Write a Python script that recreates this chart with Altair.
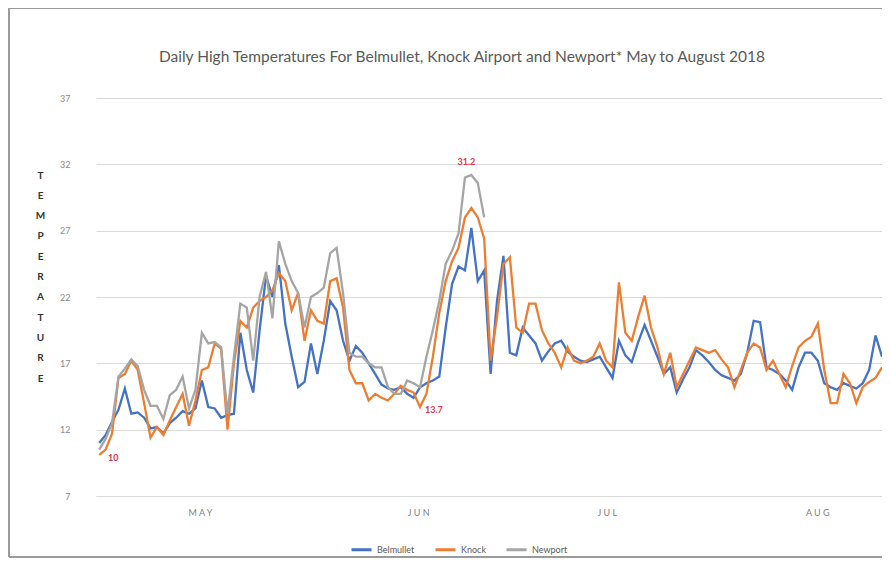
import altair as alt
import pandas as pd

# ---- data (day 0 = 1 May 2018) ----
belmullet = [11.0, 11.6, 12.6, 13.5, 15.1, 13.2, 13.3, 12.9, 12.1, 12.2,
             11.7, 12.5, 12.9, 13.4, 13.2, 13.6, 15.7, 13.7, 13.6, 12.9,
             13.1, 13.2, 19.3, 16.5, 14.8, 19.5, 23.6, 22.0, 24.4, 20.0,
             17.5, 15.2, 15.6, 18.5, 16.2, 18.7, 21.7, 21.0, 18.7, 17.2,
             18.3, 17.8, 17.0, 16.2, 15.4, 15.1, 15.0, 15.2, 14.7, 14.4,
             15.2, 15.5, 15.7, 16.0, 19.7, 23.0, 24.3, 24.0, 27.2, 23.2,
             24.0, 16.2, 21.7, 25.1, 17.8, 17.6, 19.7, 19.1, 18.5, 17.2,
             17.9, 18.5, 18.7, 17.9, 17.5, 17.2, 17.1, 17.3, 17.5, 16.7,
             15.9, 18.7, 17.6, 17.1, 18.6, 19.9, 18.7, 17.5, 16.2, 16.7,
             14.8, 15.8, 16.7, 18.0, 17.6, 17.1, 16.5, 16.1, 15.9, 15.7,
             16.2, 17.8, 20.2, 20.1, 16.7, 16.5, 16.2, 15.7, 15.0, 16.7,
             17.8, 17.8, 17.2, 15.5, 15.2, 15.0, 15.5, 15.3, 15.1, 15.5,
             16.5, 19.1, 17.5]
knock = [10.1, 10.5, 11.7, 15.9, 16.2, 17.2, 16.5, 14.0, 11.4, 12.2,
         11.6, 12.7, 13.7, 14.7, 12.3, 14.2, 16.5, 16.7, 18.5, 18.1,
         12.0, 17.0, 20.2, 19.7, 21.2, 21.7, 22.0, 22.5, 23.8, 23.2,
         21.0, 22.3, 18.7, 21.0, 20.2, 20.0, 23.2, 23.4, 21.2, 16.5,
         15.5, 15.5, 14.2, 14.7, 14.4, 14.2, 14.7, 15.3, 15.0, 14.8,
         13.7, 14.7, 17.5, 20.8, 23.2, 24.7, 25.7, 28.0, 28.7, 28.0,
         26.4, 17.2, 20.5, 24.5, 25.0, 19.7, 19.3, 21.5, 21.5, 19.5,
         18.5, 17.8, 16.7, 18.2, 17.2, 17.0, 17.2, 17.5, 18.5, 17.2,
         16.7, 23.1, 19.3, 18.7, 20.5, 22.1, 19.7, 18.2, 16.2, 17.8,
         15.2, 16.2, 17.2, 18.2, 18.0, 17.8, 18.0, 17.3, 16.7, 15.2,
         16.5, 17.8, 18.5, 18.2, 16.5, 17.2, 16.2, 15.2, 16.8, 18.2,
         18.7, 19.0, 20.0, 16.5, 14.0, 14.0, 16.2, 15.5, 14.0, 15.2,
         15.6, 15.9, 16.7]
newport = [10.5, 11.3, 12.5, 16.0, 16.6, 17.3, 16.8, 15.0, 13.8, 13.8,
           12.8, 14.6, 15.0, 16.0, 13.6, 15.0, 19.3, 18.5, 18.6, 18.2,
           13.2, 17.5, 21.5, 21.2, 17.2, 22.0, 23.9, 20.4, 26.2, 24.5,
           23.2, 22.3, 19.7, 22.0, 22.3, 22.7, 25.3, 25.7, 22.3, 17.8,
           17.5, 17.5, 17.0, 16.7, 16.7, 15.2, 14.7, 14.7, 15.7, 15.5,
           15.2, 17.5, 19.5, 21.7, 24.5, 25.5, 26.8, 31.0, 31.2, 30.6,
           28.0]

series_names = ["Belmullet", "Knock", "Newport"]
series_colors = ["#4472C4", "#ED7D31", "#A5A5A5"]

y_ticks = [7, 12, 17, 22, 27, 32, 37]
month_labels = ["M A Y", "J U N", "J U L", "A U G"]
month_label_days = [15.7, 49.7, 79.1, 111.9]

ann_labels = ["10", "31.2", "13.7"]
ann_days = [0, 58, 50]
ann_values = [10.1, 31.2, 13.7]
ann_dx = [14, -5, 5]
ann_dy = [3, -13, 3]
ann_align = ["center", "center", "left"]

title_text = "Daily High Temperatures For Belmullet, Knock Airport and Newport* May to August 2018"
y_title = list("TEMPERATURE")

# ---- build tables ----
rows = []
for name, vals in zip(series_names, [belmullet, knock, newport]):
    for d, v in enumerate(vals):
        rows.append({"series": name, "day": d, "temp": v})
df = pd.DataFrame(rows)

ann = pd.DataFrame({"label": ann_labels, "day": ann_days, "temp": ann_values})

label_map = " : ".join(
    f"datum.value < {d + 5} ? '{m}'" for d, m in zip(month_label_days[:-1], month_labels[:-1])
) + f" : '{month_labels[-1]}'"

x_scale = alt.Scale(domain=[-0.5, 122.0], nice=False, zero=False)
y_scale = alt.Scale(domain=[7, 37], nice=False, zero=False)

lines = alt.Chart(df).mark_line(strokeWidth=2.3).encode(
    x=alt.X("day:Q", scale=x_scale,
            axis=alt.Axis(values=month_label_days, labelExpr=label_map, title=None,
                          grid=False, ticks=False, domain=True, domainColor="#d9d9d9",
                          labelColor="#7f7f7f", labelFontSize=9, labelPadding=12,
                          labelFont="Lato")),
    y=alt.Y("temp:Q", scale=y_scale,
            axis=alt.Axis(values=y_ticks, title=y_title, titleAngle=0,
                          titleAlign="center", titleBaseline="top",
                          titleX=-56, titleY=72, titleLineHeight=20.3,
                          titleFontSize=10, titleFontWeight="bold", titleColor="#333333",
                          titleFont="Lato",
                          labelColor="#8a8a8a", labelFontSize=9, labelPadding=26,
                          ticks=False, domain=False, gridColor="#d9d9d9",
                          labelFont="Lato")),
    color=alt.Color("series:N", scale=alt.Scale(domain=series_names, range=series_colors),
                    legend=alt.Legend(title=None, orient="none", legendX=254, legendY=440,
                                      direction="horizontal", symbolType="stroke",
                                      symbolStrokeWidth=3, symbolSize=400,
                                      labelFontSize=9, labelColor="#595959",
                                      labelFont="Lato", columnPadding=14)),
    order=alt.Order("day:Q"),
)

lab_layers = []
for i in range(len(ann_labels)):
    lab_layers.append(
        alt.Chart(ann.iloc[[i]]).mark_text(color="#E0344F", fontSize=9, fontWeight="bold",
                                           font="Lato", dx=ann_dx[i], dy=ann_dy[i],
                                           align=ann_align[i]).encode(
            x=alt.X("day:Q", scale=x_scale),
            y=alt.Y("temp:Q", scale=y_scale),
            text="label:N",
        )
    )

title_mark = alt.Chart(pd.DataFrame({"t": [title_text]})).mark_text(
    fontSize=15.5, font="Lato", color="#595959", align="center", baseline="middle"
).encode(x=alt.value(366), y=alt.value(-41), text="t:N")

one = pd.DataFrame({"a": [0]})
frame_style = dict(stroke="#9a9a9a", strokeWidth=2)
frame_top = alt.Chart(one).mark_rule(**frame_style).encode(
    x=alt.value(-87), x2=alt.value(800), y=alt.value(-90))
frame_left = alt.Chart(one).mark_rule(**frame_style).encode(
    x=alt.value(-87), y=alt.value(-90), y2=alt.value(459))
frame_bottom = alt.Chart(one).mark_rule(**frame_style).encode(
    x=alt.value(-87), x2=alt.value(800), y=alt.value(459))

chart = alt.layer(frame_top, frame_left, frame_bottom, lines, *lab_layers, title_mark).properties(
    width=786, height=398,
    autosize=alt.AutoSizeParams(type="none"),
    padding={"left": 88, "top": 90, "right": 0, "bottom": 62},
).configure_view(stroke=None)

chart.save("out.html", embed_options={"renderer": "svg", "actions": False})
